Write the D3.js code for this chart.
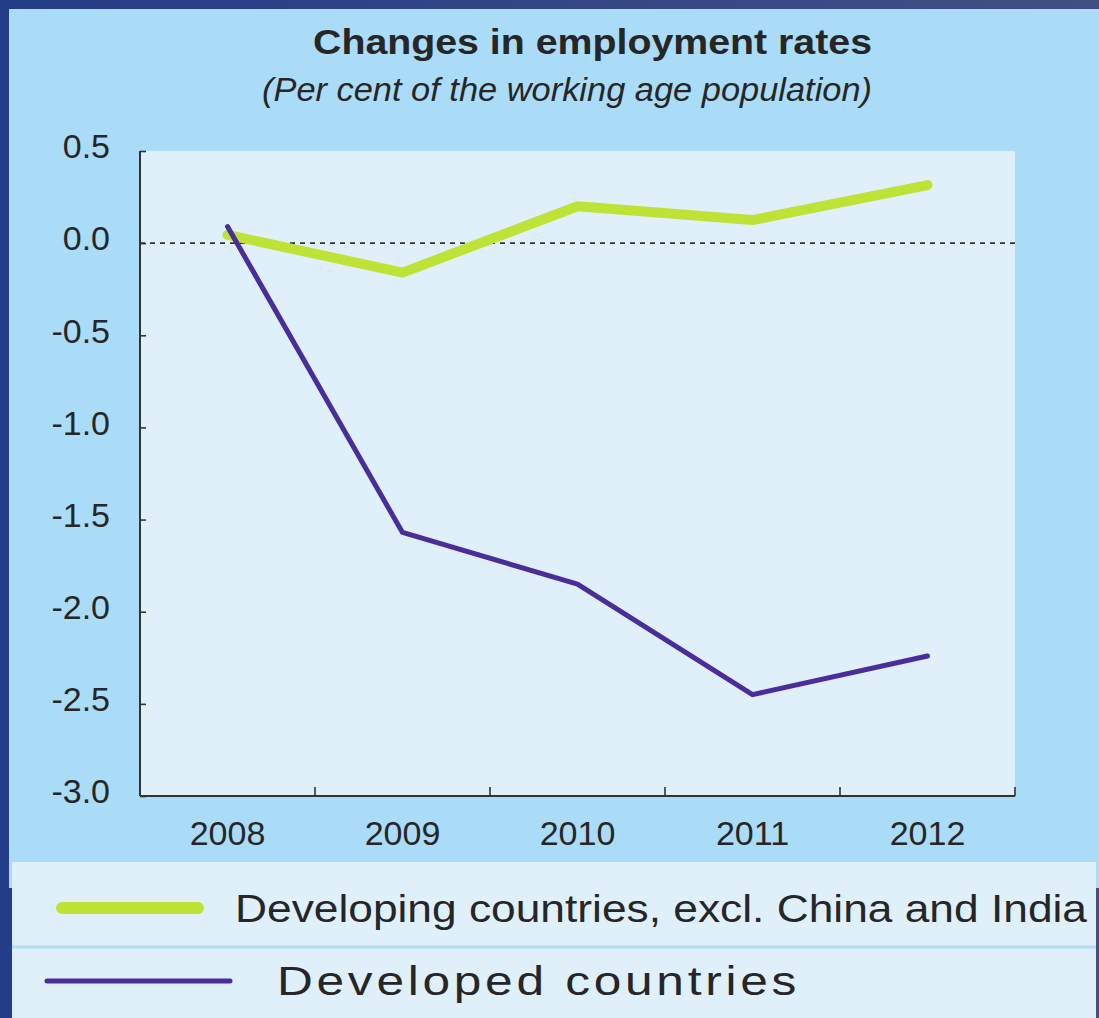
<!DOCTYPE html>
<html>
<head>
<meta charset="utf-8">
<script src="https://cdn.jsdelivr.net/npm/d3@7"></script>
<style>
  html, body { margin: 0; padding: 0; background: #263f88; }
  svg { display: block; }
  text { font-family: "Liberation Sans", Arial, sans-serif; fill: #262626; }
</style>
</head>
<body>
<svg id="chart" width="1099" height="1018"></svg>
<script>
// Years on the horizontal axis
const years = ["2008", "2009", "2010", "2011", "2012"];
// Change in employment rate, per cent of working age population
const developing = [0.045, -0.16, 0.20, 0.125, 0.315];
const developed = [0.09, -1.57, -1.85, -2.45, -2.24];
// Vertical axis ticks
const yTicks = [0.5, 0.0, -0.5, -1.0, -1.5, -2.0, -2.5, -3.0];
const seriesNames = ["Developing countries, excl. China and India", "Developed countries"];

const svg = d3.select("#chart");
const W = 1099, H = 1018;

// slide backdrop
const defs = svg.append("defs");
const bg = defs.append("linearGradient").attr("id", "bg").attr("x1", "0").attr("x2", "1").attr("y1", "0").attr("y2", "0");
bg.append("stop").attr("offset", "0").attr("stop-color", "#243d88");
bg.append("stop").attr("offset", "1").attr("stop-color", "#424f83");
svg.append("rect").attr("width", W).attr("height", H).attr("fill", "url(#bg)");

// chart panel
svg.append("rect").attr("x", 9).attr("y", 9).attr("width", W - 9).attr("height", 879).attr("fill", "#aadcf7");

const plot = { left: 140, right: 1015, top: 151, bottom: 796 };
svg.append("rect")
  .attr("x", plot.left).attr("y", plot.top)
  .attr("width", plot.right - plot.left).attr("height", plot.bottom - plot.top)
  .attr("fill", "#e0f0fb");

const x = d3.scaleBand().domain(years).range([plot.left, plot.right]);
const y = d3.scaleLinear().domain([-3.0, 0.5]).range([plot.bottom, plot.top]);

// title
svg.append("text").attr("x", 313).attr("y", 54)
  .attr("font-size", 35).attr("font-weight", "bold")
  .attr("textLength", 559).attr("lengthAdjust", "spacingAndGlyphs")
  .text("Changes in employment rates");
svg.append("text").attr("x", 262).attr("y", 101)
  .attr("font-size", 33).attr("font-style", "italic")
  .attr("textLength", 610).attr("lengthAdjust", "spacingAndGlyphs")
  .text("(Per cent of the working age population)");

// zero reference line
svg.append("line")
  .attr("x1", plot.left).attr("x2", plot.right)
  .attr("y1", y(0)).attr("y2", y(0))
  .attr("stroke", "#333").attr("stroke-width", 1.6).attr("stroke-dasharray", "5,5");

// y axis with inward ticks
const fmt = d => d3.format(".1f")(d).replace("\u2212", "-");
const yAxis = svg.append("g").attr("transform", `translate(${plot.left},0)`)
  .call(d3.axisRight(y).tickValues(yTicks).tickSize(6).tickFormat(fmt));
yAxis.select(".domain").remove();
yAxis.selectAll(".tick line").attr("stroke", "#333").attr("stroke-width", 1.6);
yAxis.selectAll(".tick text")
  .attr("x", -30).attr("text-anchor", "end").attr("font-size", 34)
  .attr("font-family", "Liberation Sans, Arial, sans-serif").attr("fill", "#262626")
  .attr("dy", "0.2em");
svg.append("line").attr("x1", plot.left).attr("x2", plot.left)
  .attr("y1", plot.top).attr("y2", plot.bottom).attr("stroke", "#333").attr("stroke-width", 2);

// x axis: ticks at band boundaries pointing up, labels at band centres
svg.append("line").attr("x1", plot.left).attr("x2", plot.right)
  .attr("y1", plot.bottom).attr("y2", plot.bottom).attr("stroke", "#333").attr("stroke-width", 2);
const bounds = years.map(d => x(d) + x.bandwidth());
svg.append("g").selectAll("line").data(bounds).join("line")
  .attr("x1", d => d).attr("x2", d => d)
  .attr("y1", plot.bottom).attr("y2", plot.bottom - 9)
  .attr("stroke", "#333").attr("stroke-width", 1.6);
svg.append("g").selectAll("text").data(years).join("text")
  .attr("x", d => x(d) + x.bandwidth() / 2).attr("y", 845)
  .attr("text-anchor", "middle").attr("font-size", 34)
  .text(d => d);

// series lines
const line = d3.line()
  .x((d, i) => x(years[i]) + x.bandwidth() / 2)
  .y(d => y(d));

svg.append("path").datum(developing)
  .attr("d", line).attr("fill", "none")
  .attr("stroke", "#bee235").attr("stroke-width", 10)
  .attr("stroke-linecap", "round").attr("stroke-linejoin", "round");
svg.append("path").datum(developed)
  .attr("d", line).attr("fill", "none")
  .attr("stroke", "#4a2c9a").attr("stroke-width", 5)
  .attr("stroke-linecap", "round").attr("stroke-linejoin", "round");

// legend box
svg.append("rect").attr("x", 12).attr("y", 862).attr("width", 1084).attr("height", H - 862).attr("fill", "#e0f0fb");
svg.append("line").attr("x1", 12).attr("x2", 1096).attr("y1", 947).attr("y2", 947)
  .attr("stroke", "#aadcf7").attr("stroke-width", 3);

svg.append("line").attr("x1", 62).attr("x2", 198).attr("y1", 908).attr("y2", 908)
  .attr("stroke", "#bee235").attr("stroke-width", 12).attr("stroke-linecap", "round");
svg.append("text").attr("x", 235).attr("y", 922).attr("font-size", 38)
  .attr("textLength", 852).attr("lengthAdjust", "spacingAndGlyphs")
  .text(seriesNames[0]);

svg.append("line").attr("x1", 47).attr("x2", 230).attr("y1", 981).attr("y2", 981)
  .attr("stroke", "#4a2c9a").attr("stroke-width", 5).attr("stroke-linecap", "round");
svg.append("text").attr("x", 277).attr("y", 995).attr("font-size", 40)
  .attr("letter-spacing", 3)
  .attr("textLength", 523).attr("lengthAdjust", "spacingAndGlyphs")
  .text(seriesNames[1]);
</script>
</body>
</html>
